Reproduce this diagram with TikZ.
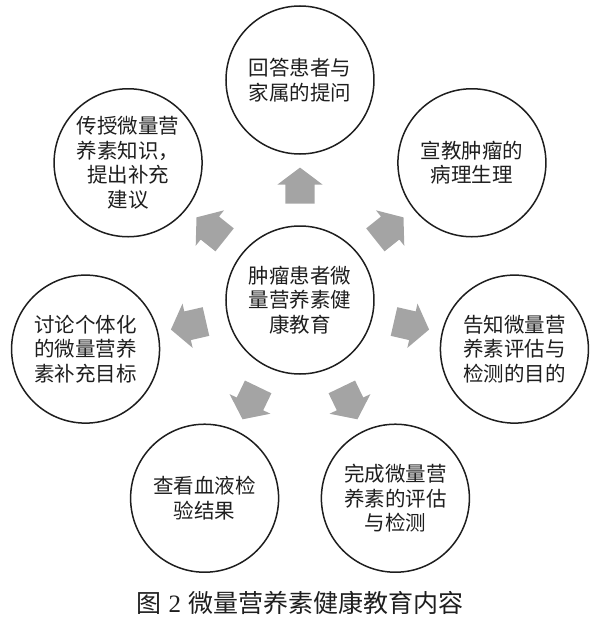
\documentclass[tikz,border=0pt]{standalone}
\usepackage{fontspec}
\setmainfont{Liberation Serif}
\newfontfamily\cjk{Noto Sans CJK SC}
\usepackage{tikz}
\usetikzlibrary{shapes, calc}

\definecolor{inkgray}{HTML}{1E1E1E}
\definecolor{arrowgray}{HTML}{A4A4A4}

\begin{document}
\begin{tikzpicture}[
            topic/.style={draw=inkgray, circle, line width=1.5pt, minimum size=148pt, inner sep=0pt,
                align=center, text=inkgray, font=\cjk\fontsize{20.5pt}{24.5pt}\selectfont},
            blockarrow/.style={single arrow, fill=arrowgray, draw=none, inner xsep=0pt, inner ysep=14.5pt,
                minimum height=36pt, single arrow head extend=8pt,
                single arrow tip angle=106}]
            \useasboundingbox (-300pt,-322pt) rectangle (300pt,300pt);

            % hub in the middle, seven topics round it
            \node[topic] (hub) at (0,0) {肿瘤患者微\\量营养素健\\康教育};
            \node[topic] (answer) at (90:220pt) {回答患者与\\家属的提问};
            \node[topic] (patho) at (38.6:220pt) {宣教肿瘤的\\病理生理};
            \node[topic] (aim) at (-12.9:220pt) {告知微量营\\养素评估与\\检测的目的};
            \node[topic] (assess) at (-64.3:220pt) {完成微量营\\养素的评估\\与检测};
            \node[topic] (blood) at (-115.7:220pt) {查看血液检\\验结果};
            \node[topic] (goal) at (-167.1:220pt) {讨论个体化\\的微量营养\\素补充目标};
            \node[topic] (advice) at (141.4:220pt) {传授微量营\\养素知识，\\提出补充\\建议};

            % grey block arrows from the hub
            \node[blockarrow, rotate=90] (toanswer) at ($(hub)!0.495!(answer)$) {};
            \node[blockarrow, rotate=38.6] (topatho) at ($(hub)!0.495!(patho)$) {};
            \node[blockarrow, rotate=-12.9] (toaim) at ($(hub)!0.495!(aim)$) {};
            \node[blockarrow, rotate=-64.3] (toassess) at ($(hub)!0.495!(assess)$) {};
            \node[blockarrow, rotate=-115.7] (toblood) at ($(hub)!0.495!(blood)$) {};
            \node[blockarrow, rotate=-167.1] (togoal) at ($(hub)!0.495!(goal)$) {};
            \node[blockarrow, rotate=141.4] (toadvice) at ($(hub)!0.495!(advice)$) {};

            \node[text=inkgray, font=\fontsize{25pt}{30pt}\selectfont] (caption) at (0,-303pt)
                {{\cjk 图}\hspace{7pt}2\hspace{7pt}{\cjk 微量营养素健康教育内容}};
        \end{tikzpicture}
\end{document}
